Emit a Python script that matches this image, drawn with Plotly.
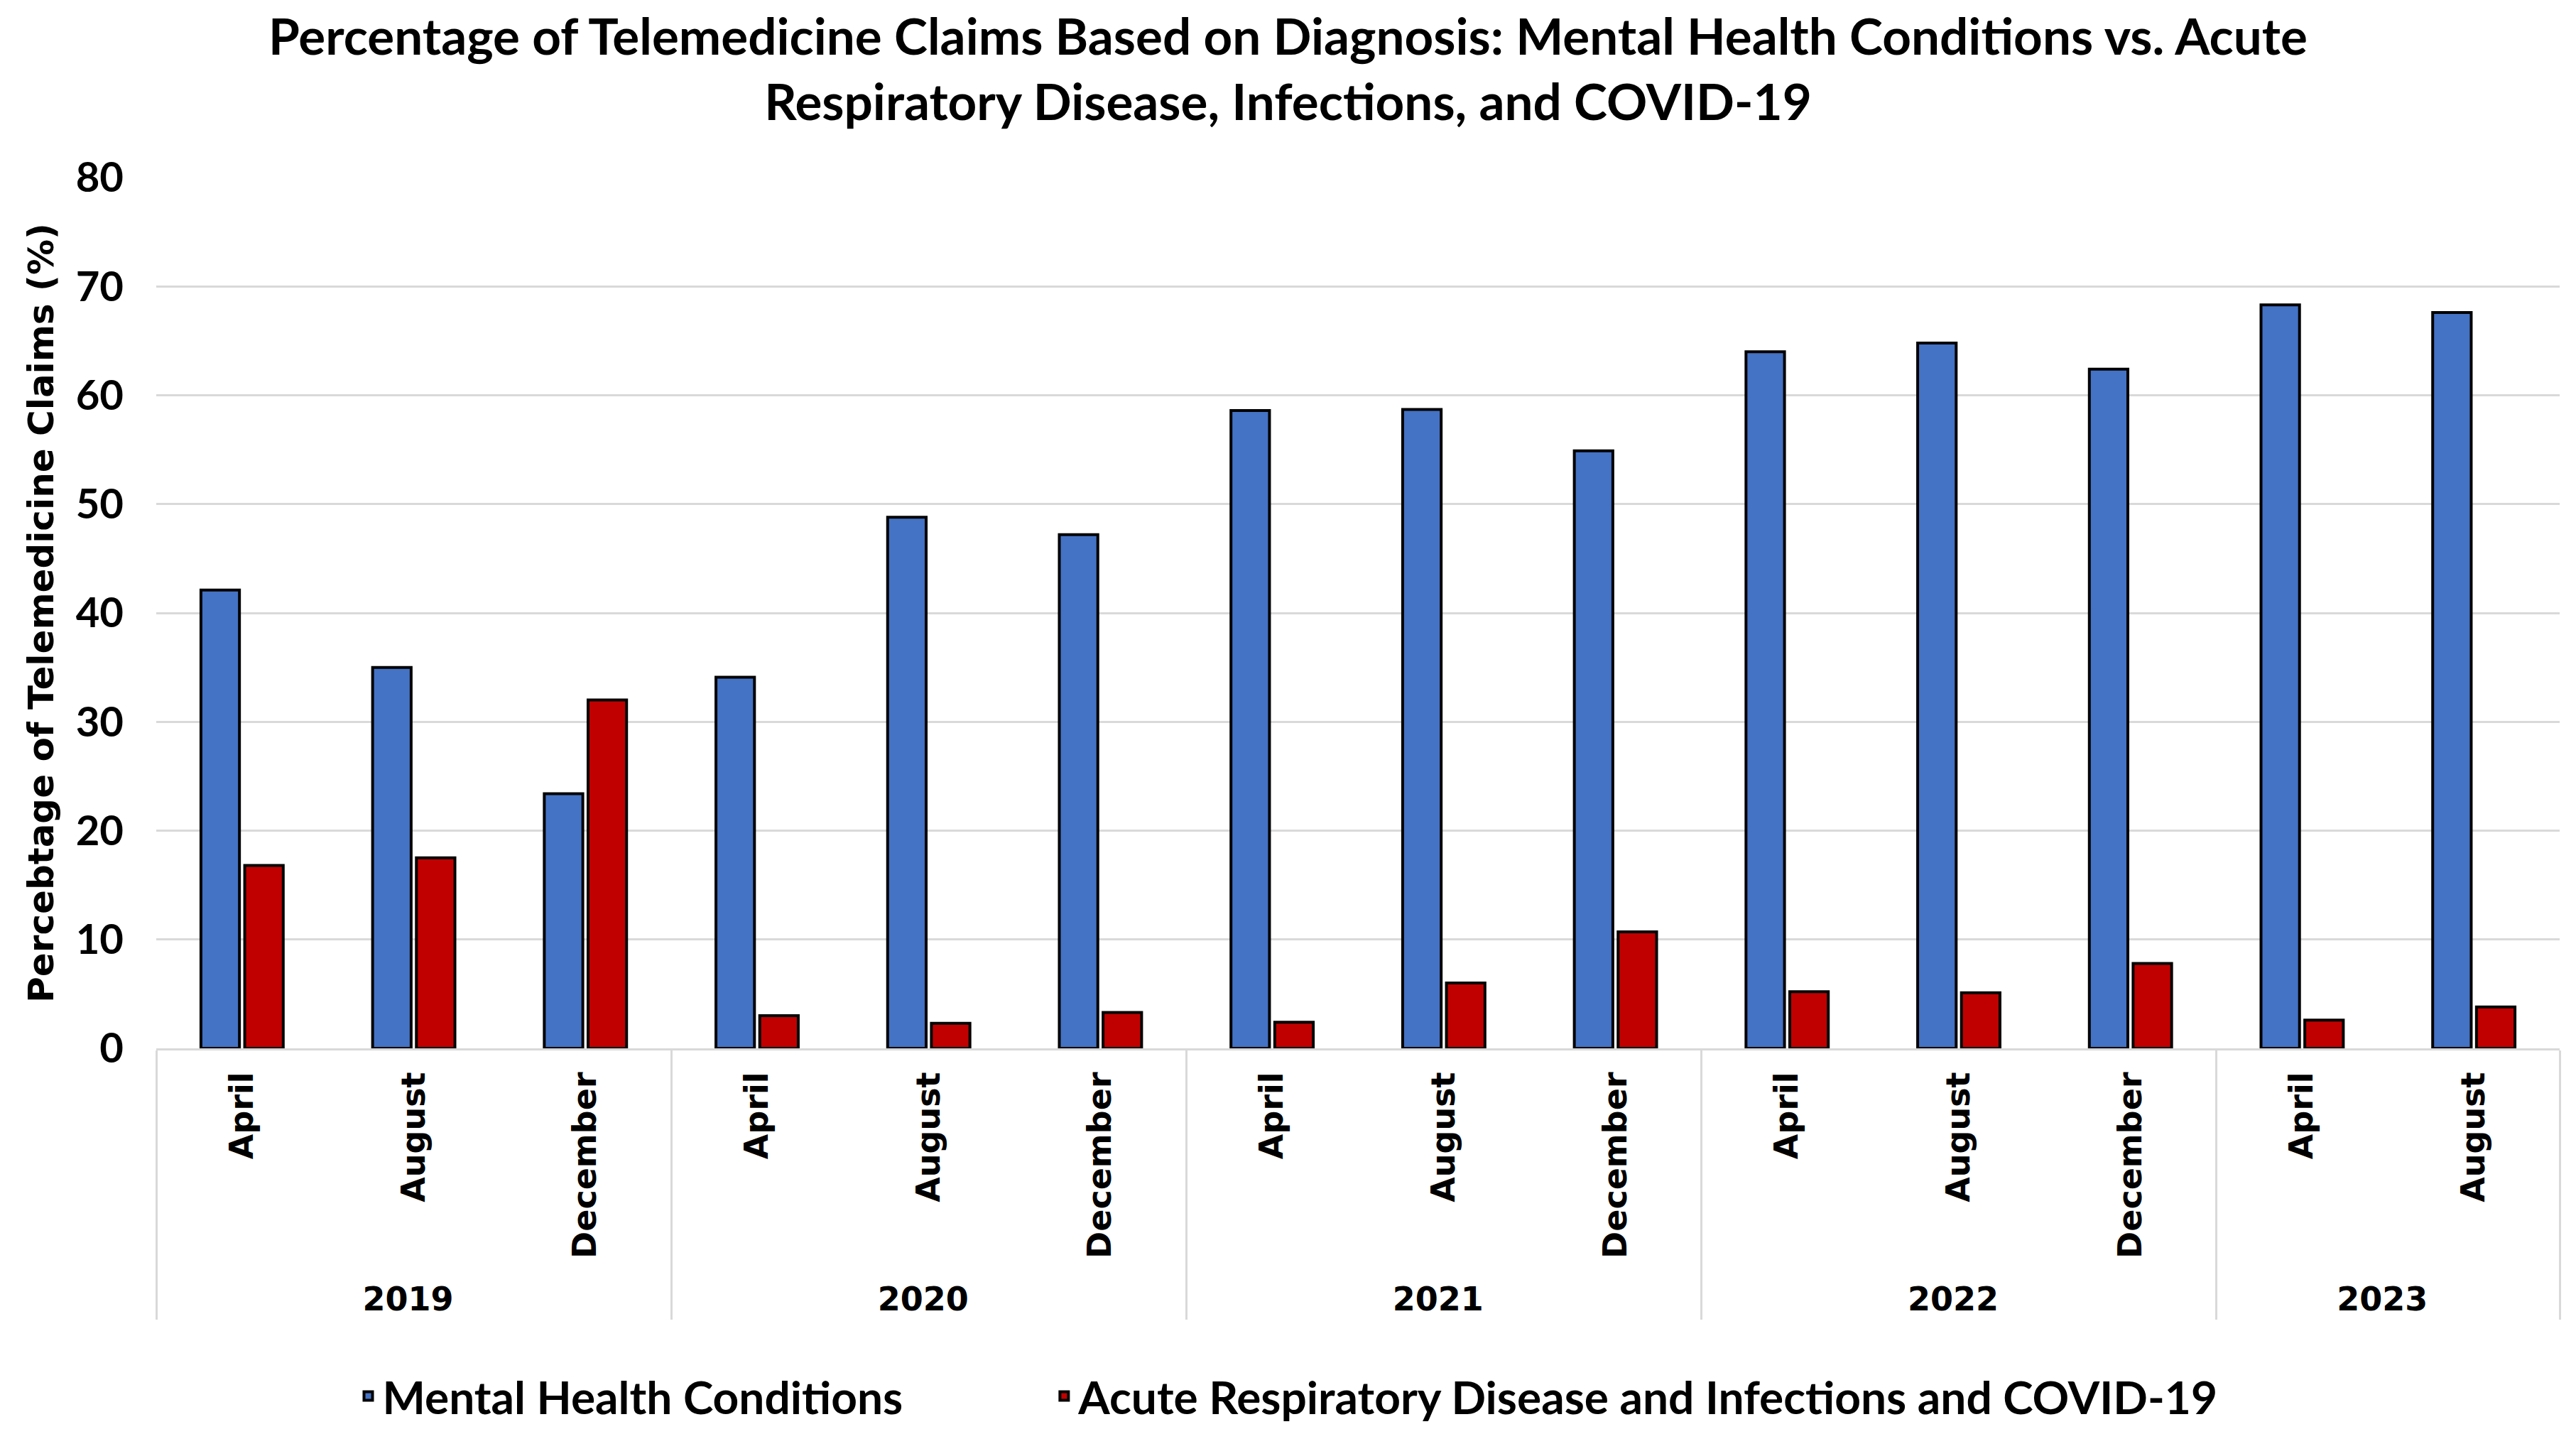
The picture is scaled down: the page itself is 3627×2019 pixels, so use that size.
import plotly.graph_objects as go

years = ["2019", "2019", "2019", "2020", "2020", "2020", "2021", "2021", "2021",
         "2022", "2022", "2022", "2023", "2023"]
months = ["April", "August", "December"] * 4 + ["April", "August"]

mental_health = [42.1, 35.0, 23.4, 34.1, 48.8, 47.2, 58.6, 58.7, 54.9,
                 64.0, 64.8, 62.4, 68.3, 67.6]
acute_resp = [16.8, 17.5, 32.0, 3.0, 2.3, 3.3, 2.4, 6.0, 10.7,
              5.2, 5.1, 7.8, 2.6, 3.8]

blue = "#4472C4"
red = "#C00000"
grid = "#D9D9D9"

fig = go.Figure()
fig.add_trace(go.Bar(
    x=[years, months], y=mental_health,
    name="Mental Health Conditions" + "\u00a0" * 13,
    marker=dict(color=blue, line=dict(color="black", width=4)),
))
fig.add_trace(go.Bar(
    x=[years, months], y=acute_resp, name="Acute Respiratory Disease and Infections and COVID-19",
    marker=dict(color=red, line=dict(color="black", width=4)),
))

fig.update_layout(
    width=3611, height=2003,
    paper_bgcolor="white", plot_bgcolor="white",
    barmode="group", bargap=0.49, bargroupgap=0.12,
    margin=dict(l=212, r=15, t=242, b=535),
    title=dict(
        text="Percentage of Telemedicine Claims Based on Diagnosis: Mental Health Conditions vs. Acute<br>Respiratory Disease, Infections, and COVID-19",
        x=0.5, xref="container", xanchor="center",
        y=0.9655, yref="container", yanchor="top",
        font=dict(family="Lato", size=71, color="black", weight="bold"),
    ),
    legend=dict(
        orientation="h", xref="container", x=0.5, xanchor="center",
        yref="container", y=0.0225, yanchor="middle",
        font=dict(family="Lato", size=64, color="black", weight="bold"),
    ),
    showlegend=True,
)
fig.update_xaxes(
    type="multicategory",
    showline=True, linecolor=grid, linewidth=3,
    tickangle=-90,
    ticklabelstandoff=12,
    tickfont=dict(family="DejaVu Sans", size=46, color="black", weight="bold"),
    showdividers=True, dividercolor=grid, dividerwidth=3,
    showgrid=False,
)
fig.update_yaxes(
    range=[0, 80], dtick=10,
    showgrid=True, gridcolor=grid, gridwidth=3,
    zeroline=False,
    tickfont=dict(family="Lato", size=58, color="black", weight="bold"),
    ticklabelstandoff=45,
    title=dict(text="Percebtage of Telemedicine Claims (%)", standoff=15,
               font=dict(family="DejaVu Sans", size=50, color="black", weight="bold")),
)

fig.write_html("out.html")
